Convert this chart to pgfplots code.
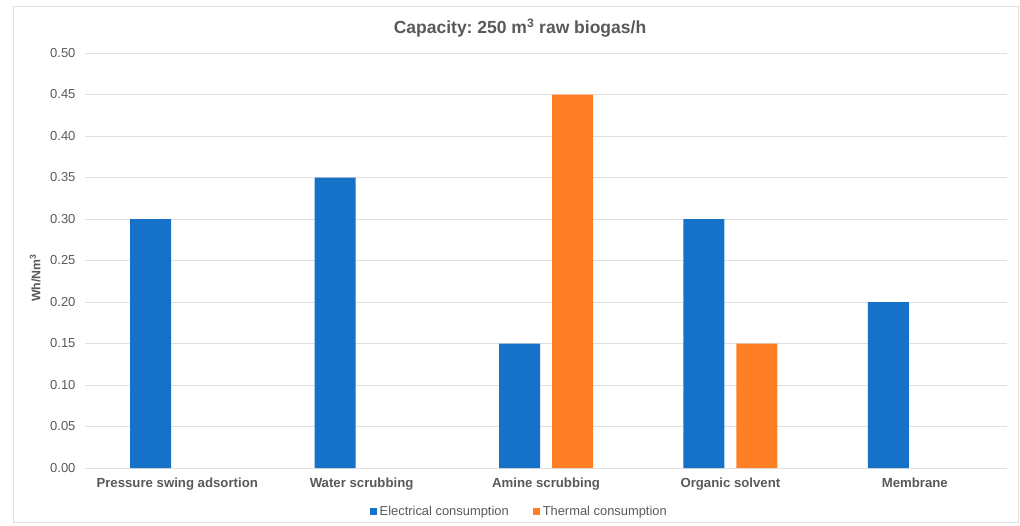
\documentclass[border=0pt]{standalone}
\usepackage{pgfplots}
\pgfplotsset{compat=1.18}
\usepackage{fontspec}
\setmainfont{Liberation Sans}
\frenchspacing

\definecolor{elec}{RGB}{22,114,200}
\definecolor{therm}{RGB}{255,127,39}
\definecolor{txt}{RGB}{89,89,89}
\definecolor{gridc}{RGB}{224,224,224}

\begin{document}
\begin{tikzpicture}[x=1pt,y=1pt]
\path[use as bounding box] (0,0) rectangle (1020,525);
\draw[gridc,line width=1pt] (13,518) rectangle (1018,3);
\node[font=\bfseries\fontsize{17.5}{20}\selectfont,text=txt] at (520,497)
  {Capacity: 250 m\textsuperscript{3} raw biogas/h};
\begin{axis}[
  at={(85pt,57pt)}, anchor=south west,
  scale only axis, width=922pt, height=415pt,
  ybar=12pt, bar width=41pt,
  xmin=-0.5, xmax=4.5, ymin=0, ymax=0.5,
  xtick={0,1,2,3,4},
  xticklabels={Pressure swing adsortion,Water scrubbing,Amine scrubbing,Organic solvent,Membrane},
  ytick={0,0.05,...,0.51},
  /pgf/number format/fixed,
  /pgf/number format/fixed zerofill,
  /pgf/number format/precision=2,
  /pgf/number format/assume math mode=true,
  tick label style={text=txt},
  yticklabel style={font=\fontsize{13}{15}\selectfont,xshift=-6pt},
  xticklabel style={font=\bfseries\fontsize{13.2}{16}\selectfont,yshift=-6pt},
  major tick length=0pt,
  axis x line*=bottom, axis y line*=left,
  x axis line style={gridc,line width=1pt,-},
  y axis line style={draw=none},
  ymajorgrids, grid style={gridc,line width=0.9pt},
  ylabel={Wh/Nm\textsuperscript{3}},
  ylabel style={font=\bfseries\fontsize{12.3}{15}\selectfont,text=txt,
    at={(axis description cs:-0.054,0.458)},anchor=center},
  legend columns=2,
  legend style={draw=none,fill=none,font=\fontsize{12.9}{15}\selectfont,text=txt,
    at={(rel axis cs:0.471,-0.106)},anchor=center,
    /tikz/every odd column/.append style={column sep=1pt},
    /tikz/every even column/.append style={column sep=22pt}},
  legend image code/.code={\fill[#1] (0pt,-3.5pt) rectangle (7pt,3.5pt);},
  enlarge x limits=false,
]
\addplot[draw=none,fill=elec] coordinates {(0,0.30) (1,0.35) (2,0.15) (3,0.30) (4,0.20)};
\addplot[draw=none,fill=therm] coordinates {(2,0.45) (3,0.15)};
\legend{Electrical consumption,Thermal consumption}
\end{axis}
\end{tikzpicture}
\end{document}
